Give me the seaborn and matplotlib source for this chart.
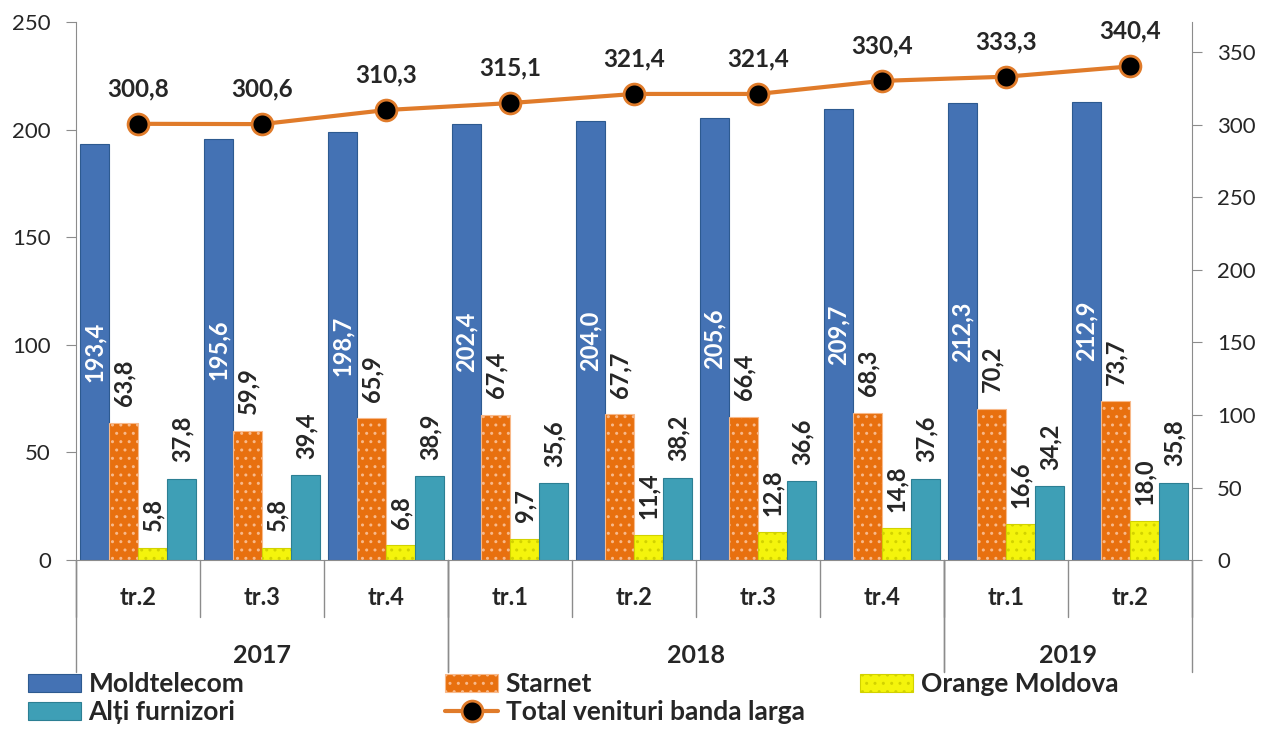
import numpy as np
import pandas as pd
import matplotlib
matplotlib.use('Agg')
import matplotlib.pyplot as plt
import seaborn as sns

# date (mil. lei), pe trimestre
years = ['2017', '2017', '2017', '2018', '2018', '2018', '2018', '2019', '2019']
quarters = ['tr.2', 'tr.3', 'tr.4', 'tr.1', 'tr.2', 'tr.3', 'tr.4', 'tr.1', 'tr.2']
moldtelecom = [193.4, 195.6, 198.7, 202.4, 204.0, 205.6, 209.7, 212.3, 212.9]
starnet = [63.8, 59.9, 65.9, 67.4, 67.7, 66.4, 68.3, 70.2, 73.7]
orange_md = [5.8, 5.8, 6.8, 9.7, 11.4, 12.8, 14.8, 16.6, 18.0]
alti = [37.8, 39.4, 38.9, 35.6, 38.2, 36.6, 37.6, 34.2, 35.8]
total = [300.8, 300.6, 310.3, 315.1, 321.4, 321.4, 330.4, 333.3, 340.4]

series = ['Moldtelecom', 'Starnet', 'Orange Moldova', 'Alți furnizori']
line_name = 'Total venituri banda larga'

periods = [q + ' ' + y for q, y in zip(quarters, years)]
df = pd.DataFrame({
    'perioada': periods * 4,
    'furnizor': [s for s in series for _ in periods],
    'valoare': moldtelecom + starnet + orange_md + alti,
})

colors = {'Moldtelecom': '#4472B4', 'Starnet': '#E8700F',
          'Orange Moldova': '#F4F40C', 'Alți furnizori': '#3E9FB6'}
edges = {'Moldtelecom': '#2D5A90', 'Starnet': '#F8B98A',
         'Orange Moldova': '#D2D200', 'Alți furnizori': '#2C7F93'}
hatches = {'Moldtelecom': None, 'Starnet': '..', 'Orange Moldova': '..', 'Alți furnizori': None}
line_color = '#E07B2A'
grey = '#8C8C8C'

def fmt(v):
    return f'{v:.1f}'.replace('.', ',')

sns.set_style('white')
plt.rcParams['font.family'] = ['Lato', 'DejaVu Sans']

fig = plt.figure(figsize=(12.61, 7.29), dpi=100)
ax = fig.add_axes([0.0603, 0.2318, 0.8850, 0.7380])

sns.barplot(data=df, x='perioada', y='valoare', hue='furnizor', hue_order=series,
            order=periods, palette=colors, width=0.94, saturation=1, legend=False, ax=ax)

for name, cont in zip(series, ax.containers):
    for bar in cont:
        bar.set_edgecolor(edges[name])
        bar.set_linewidth(0.8)
        if hatches[name]:
            bar.set_hatch(hatches[name])

# etichete
for bar, v in zip(ax.containers[0], moldtelecom):
    ax.text(bar.get_x() + bar.get_width() / 2, bar.get_height() / 2, fmt(v),
            rotation=90, ha='center', va='center', color='white',
            fontsize=17, fontweight='bold')
for cont, vals in zip(ax.containers[1:], [starnet, orange_md, alti]):
    for bar, v in zip(cont, vals):
        ax.annotate(fmt(v), (bar.get_x() + bar.get_width() / 2, bar.get_height()),
                    xytext=(0, 12), textcoords='offset points', rotation=90,
                    ha='center', va='bottom', fontsize=17, fontweight='bold')

ax.set_ylim(0, 250)
ax.set_yticks(np.arange(0, 251, 50))
ax.set_xlim(-0.5, len(periods) - 0.5)

ax2 = ax.twinx()
sns.lineplot(x=np.arange(len(periods)), y=total, ax=ax2, color=line_color, linewidth=3,
             marker='o', markersize=15, markerfacecolor='black',
             markeredgecolor=line_color, markeredgewidth=2)
for i, v in enumerate(total):
    ax2.annotate(fmt(v), (i, v), xytext=(0, 17), textcoords='offset points',
                 ha='center', va='bottom', fontsize=17.5, fontweight='bold')
ax2.set_ylim(0, 371)
ax2.set_yticks(np.arange(0, 351, 50))
ax.set_xlim(-0.5, len(periods) - 0.5)

for a in (ax, ax2):
    for s in a.spines.values():
        s.set_color(grey)
    a.spines['top'].set_visible(False)
    a.set_xlabel('')
    a.set_ylabel('')
ax.spines['right'].set_visible(False)
ax2.spines['left'].set_visible(False)
ax2.spines['bottom'].set_visible(False)

ax.tick_params(axis='y', length=7, color=grey, pad=11, labelsize=16)
ax2.tick_params(axis='y', length=7, color=grey, pad=11, labelsize=16)

# axa x pe doua niveluri
ax.set_xticks(np.arange(len(periods)))
ax.set_xticklabels(quarters, fontsize=17, fontweight='bold')
ax.tick_params(axis='x', length=0, pad=19)
tr = ax.get_xaxis_transform()
for b in np.arange(len(periods) + 1) - 0.5:
    ax.plot([b, b], [0, -0.106], transform=tr, color=grey, lw=1, clip_on=False)
year_list = list(dict.fromkeys(years))
starts = [years.index(y) for y in year_list]
ends = [len(years) - years[::-1].index(y) for y in year_list]
for y, s, e in zip(year_list, starts, ends):
    ax.plot([s - 0.5, s - 0.5], [0, -0.208], transform=tr, color=grey, lw=1, clip_on=False)
    ax.plot([e - 0.5, e - 0.5], [0, -0.208], transform=tr, color=grey, lw=1, clip_on=False)
    ax.text((s + e - 1) / 2, -0.177, y, transform=tr, ha='center', va='center',
            fontsize=18, fontweight='bold')

# legenda
line_handle = ax2.get_lines()[0]
leg_kw = dict(loc='upper left', frameon=False, borderpad=0, borderaxespad=0,
              prop={'size': 19, 'weight': 'bold'},
              handlelength=2.0, handleheight=0.65, handletextpad=0.3, labelspacing=0.15)
fig.legend([ax.containers[0], ax.containers[3]], [series[0], series[3]],
           bbox_to_anchor=(0.022, 0.078), **leg_kw)
fig.legend([ax.containers[1], line_handle], [series[1], line_name],
           bbox_to_anchor=(0.353, 0.078), **leg_kw)
fig.legend([ax.containers[2]], [series[2]],
           bbox_to_anchor=(0.682, 0.078), **leg_kw)

fig.savefig('out.png', dpi=100)
